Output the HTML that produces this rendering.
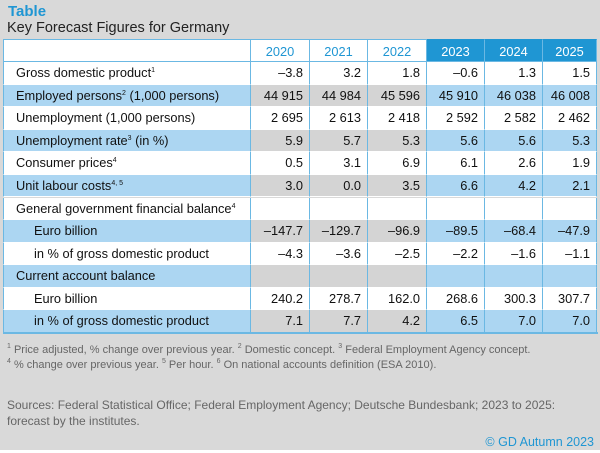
<!DOCTYPE html>
<html><head><meta charset="utf-8">
<style>
body{margin:0;width:600px;height:453px;background:#fff;font-family:"Liberation Sans",sans-serif;overflow:hidden}
#bg{position:absolute;left:0;top:0;width:600px;height:450px;background:#d9d9d9}
.t{position:absolute;white-space:nowrap}
.c{position:absolute;box-sizing:border-box;font-size:12.8px;color:#111;line-height:23px}
sup{font-size:7px;vertical-align:5px;line-height:0}
.fn{font-size:11px;color:#666}
</style></head><body>
<div id="bg"></div>
<div class="t" style="left:8px;top:3px;font-size:15px;font-weight:bold;color:#1f96d3">Table</div>
<div class="t" style="left:7px;top:20px;font-size:14.5px;color:#222">Key Forecast Figures for Germany</div>
<div id="tbl"></div>
<div class="t fn" style="left:7px;top:344px"><sup>1</sup> Price adjusted, % change over previous year. <sup>2</sup> Domestic concept. <sup>3</sup> Federal Employment Agency concept.</div>
<div class="t fn" style="left:7px;top:359px"><sup>4</sup> % change over previous year. <sup>5</sup> Per hour. <sup>6</sup> On national accounts definition (ESA 2010).</div>
<div class="t fn" style="left:7px;top:397px;font-size:12px;line-height:16px">Sources: Federal Statistical Office; Federal Employment Agency; Deutsche Bundesbank; 2023 to 2025:<br>forecast by the institutes.</div>
<div class="t" style="right:6px;top:435px;font-size:12.5px;color:#1f96d3">© GD Autumn 2023</div>
<script>
const years=["2020","2021","2022","2023","2024","2025"];
const labels=["Gross domestic product<sup>1</sup>","Employed persons<sup>2</sup> (1,000 persons)","Unemployment (1,000 persons)","Unemployment rate<sup>3</sup> (in %)","Consumer prices<sup>4</sup>","Unit labour costs<sup>4, 5</sup>","General government financial balance<sup>4</sup>","Euro billion","in % of gross domestic product","Current account balance","Euro billion","in % of gross domestic product"];
const indent=[0,0,0,0,0,0,0,1,1,0,1,1];
const values=[
["–3.8","3.2","1.8","–0.6","1.3","1.5"],
["44 915","44 984","45 596","45 910","46 038","46 008"],
["2 695","2 613","2 418","2 592","2 582","2 462"],
["5.9","5.7","5.3","5.6","5.6","5.3"],
["0.5","3.1","6.9","6.1","2.6","1.9"],
["3.0","0.0","3.5","6.6","4.2","2.1"],
["","","","","",""],
["–147.7","–129.7","–96.9","–89.5","–68.4","–47.9"],
["–4.3","–3.6","–2.5","–2.2","–1.6","–1.1"],
["","","","","",""],
["240.2","278.7","162.0","268.6","300.3","307.7"],
["7.1","7.7","4.2","6.5","7.0","7.0"]];
const colX=[3,251,310,368,427,485,543,597];
const top0=39,hh=23,rh=(333-62)/12;
const tbl=document.getElementById('tbl');
function cell(x,y,w,h,bg,html,align,color,name){
 const d=document.createElement('div');d.className='c';
 
 
 d.style.cssText=`left:${x}px;top:${y}px;width:${w}px;height:${h}px;background:${bg};text-align:${align};line-height:${h}px;color:${color};border-right:1.5px solid #6bb8e3;border-bottom:1px solid #fff;padding:0 ${align=='right'?6:0}px 0 0`;
 d.innerHTML=html;tbl.appendChild(d);return d;}
const hl=cell(colX[0],top0,colX[1]-colX[0],hh,'#fff','','left','#111','header-blank');
hl.style.borderLeft='1.5px solid #6bb8e3';hl.style.borderTop='1.5px solid #6bb8e3';
years.forEach((y,i)=>{const f=i>=3;
 const d=cell(colX[i+1],top0,colX[i+2]-colX[i+1],hh,f?'#1f96d3':'#fff',y,'center',f?'#fff':'#1f96d3','header-'+y);
 d.style.borderTop='1.5px solid '+(f?'#1f96d3':'#6bb8e3');d.style.borderBottom='1.5px solid #6bb8e3';});
hl.style.borderBottom='1.5px solid #6bb8e3';
labels.forEach((l,r)=>{const y=top0+hh+r*rh,blue=r%2==1;
 const lc=cell(colX[0],y,colX[1]-colX[0],rh,blue?'#acd6f2':'#fff',l,'left','#111','row-label-'+r);
 lc.style.borderLeft='1.5px solid #6bb8e3';lc.style.paddingLeft=(indent[r]?30:12)+'px';
 values[r].forEach((v,i)=>{const f=i>=3;
  cell(colX[i+1],y,colX[i+2]-colX[i+1],rh,blue?(f?'#acd6f2':'#d4d4d4'):'#fff',v,'right','#111','value-r'+r+'-'+years[i]);});
});
const b=document.createElement('div');


b.style.cssText=`position:absolute;left:3px;top:332px;width:595px;height:1.5px;background:#6bb8e3`;tbl.appendChild(b);
</script>
</body></html>
